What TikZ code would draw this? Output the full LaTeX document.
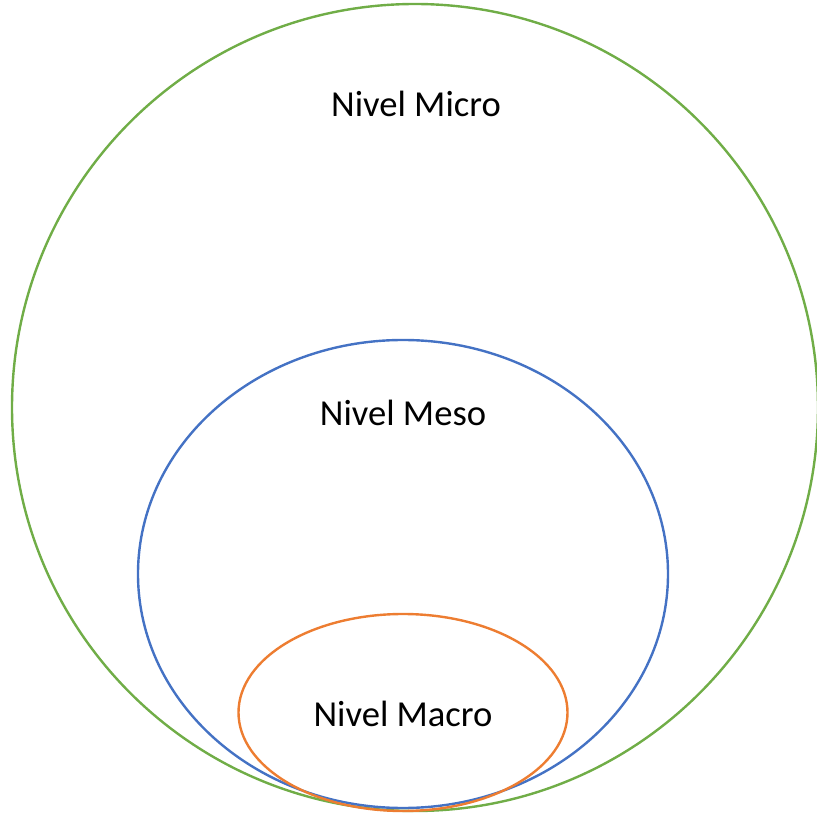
\documentclass[tikz,border=0pt]{standalone}
\usepackage{fontspec}
\setmainfont{Carlito}
\usetikzlibrary{shapes.geometric}
\definecolor{microgreen}{HTML}{70AD47}
\definecolor{mesoblue}{HTML}{4472C4}
\definecolor{macroorange}{HTML}{ED7D31}
\begin{document}
\begin{tikzpicture}[x=1pt,y=1pt,
  level/.style={ellipse,draw,line width=2.4pt,inner sep=0pt,outer sep=0pt},
  label/.style={font=\fontsize{36.6}{44}\selectfont,inner sep=0pt,anchor=base}]
  \useasboundingbox (0,0) rectangle (817,815);
  % nested levels
  \node[level,draw=microgreen,minimum width=806pt,minimum height=807pt] (micro) at (415,407.5) {};
  \node[level,draw=mesoblue,minimum width=530pt,minimum height=468pt] (meso) at (403,241) {};
  \node[level,draw=macroorange,minimum width=329pt,minimum height=197pt] (macro) at (403,102.5) {};
  % level names
  \node[label] (microtxt) at (416,698.5) {Nivel Micro};
  \node[label] (mesotxt) at (403,389.5) {Nivel Meso};
  \node[label] (macrotxt) at (403,88.5) {Nivel Macro};
\end{tikzpicture}
\end{document}
